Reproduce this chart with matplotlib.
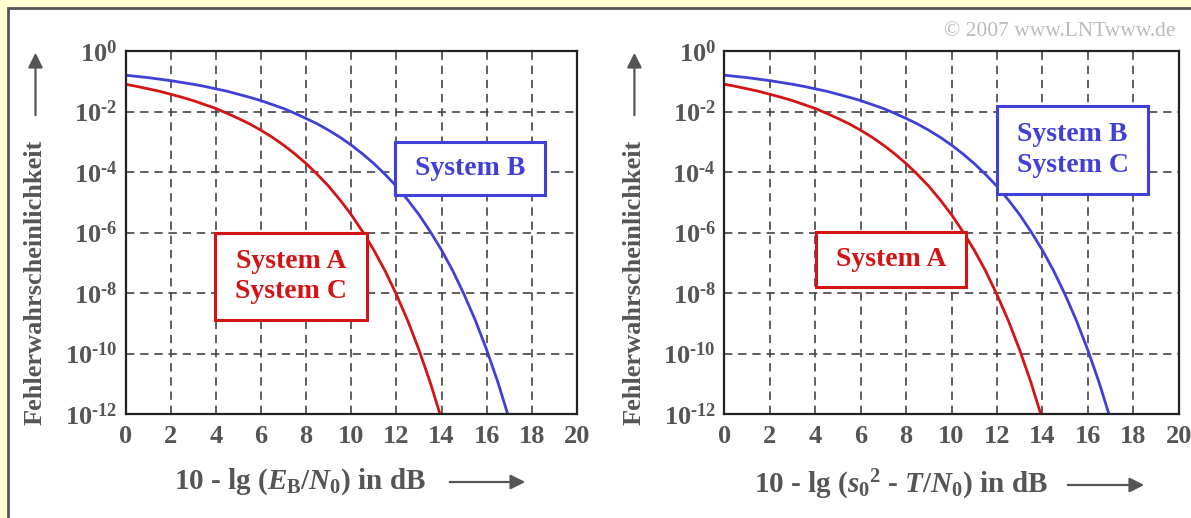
import matplotlib
matplotlib.use("Agg")
import matplotlib.pyplot as plt
from matplotlib.patches import Rectangle, FancyArrowPatch
from matplotlib.ticker import FixedLocator, FixedFormatter
import numpy as np

# ---------------- data (log10 of error probability) -------------
x_red = [0, 0.5, 1, 1.5, 2, 2.5, 3, 3.5, 4, 4.5, 5, 5.5, 6, 6.5, 7, 7.5, 8, 8.5, 9,
         9.5, 10, 10.5, 11, 11.5, 12, 12.5, 13, 13.5, 14]
lg_red = [-1.10, -1.17, -1.25, -1.33, -1.43, -1.53, -1.64, -1.77, -1.90, -2.06, -2.23,
          -2.41, -2.62, -2.85, -3.11, -3.40, -3.72, -4.08, -4.47, -4.92, -5.41, -5.97,
          -6.58, -7.27, -8.05, -8.91, -9.88, -10.96, -12.17]
x_blue = [0, 0.5, 1, 1.5, 2, 2.5, 3, 3.5, 4, 4.5, 5, 5.5, 6, 6.5, 7, 7.5, 8, 8.5, 9,
          9.5, 10, 10.5, 11, 11.5, 12, 12.5, 13, 13.5, 14, 14.5, 15, 15.5, 16, 16.5, 17]
lg_blue = [-0.80, -0.84, -0.88, -0.93, -0.98, -1.04, -1.10, -1.17, -1.25, -1.33, -1.43,
           -1.53, -1.64, -1.77, -1.90, -2.06, -2.23, -2.41, -2.62, -2.85, -3.11, -3.40,
           -3.72, -4.08, -4.47, -4.92, -5.41, -5.97, -6.58, -7.27, -8.05, -8.91, -9.88,
           -10.96, -12.17]

x_ticks = [0, 2, 4, 6, 8, 10, 12, 14, 16, 18, 20]
y_exps = [0, -2, -4, -6, -8, -10, -12]
ylabel_text = "Fehlerwahrscheinlichkeit"
xlabels = [r"10 - lg ($E_\mathrm{B}/N_0$) in dB", r"10 - lg ($s_0{}^2$ - $T/N_0$) in dB"]
box_texts = [("System B", "System A\nSystem C"), ("System B\nSystem C", "System A")]
copyright_text = "© 2007 www.LNTwww.de"

RED = "#D41414"
BLUE = "#4040D8"
GRAY = "#555555"

plt.rcParams["font.family"] = ["Liberation Serif", "DejaVu Serif"]
plt.rcParams["mathtext.fontset"] = "custom"
plt.rcParams["mathtext.rm"] = "Liberation Serif:bold"
plt.rcParams["mathtext.it"] = "Liberation Serif:bold:italic"
plt.rcParams["mathtext.bf"] = "Liberation Serif:bold"

W, H = 1191, 518
fig = plt.figure(figsize=(W / 100, H / 100), dpi=100)
fig.patch.set_facecolor("#FFFFD2")
fig.patches.append(Rectangle((8 / W, -0.05), 1.2, 1 - 8 / H + 0.05, transform=fig.transFigure,
                             facecolor="white", edgecolor="#555555", lw=2.0, zorder=-10))

def px_axes(l, t, r, b):
    return [l / W, 1 - b / H, (r - l) / W, (b - t) / H]

def ylab(e):
    if e == 0:
        return r"$\mathrm{10^{0}}$"
    return r"$\mathrm{10^{\text{-}%d}}$" % (-e)

axes_px = [(125.5, 51, 577, 414), (724.4, 51, 1178.6, 414)]
# boxes in axes fractions: (x0, y0, x1, y1)
blue_boxes = [(0.597, 0.603, 0.929, 0.749), (0.600, 0.606, 0.933, 0.848)]
red_boxes = [(0.198, 0.259, 0.535, 0.499), (0.201, 0.350, 0.532, 0.501)]
xlabel_pos = [(300, 482, 447, 528), (901, 485, 1065, 1147)]

for i, (l, t, r, b) in enumerate(axes_px):
    ax = fig.add_axes(px_axes(l, t, r, b))
    ax.set_facecolor("white")
    ax.set_yscale("log")
    ax.set_xlim(0, 20)
    ax.set_ylim(1e-12, 1)
    ax.plot(x_red, 10.0 ** np.array(lg_red), color=RED, lw=2.0, zorder=3, solid_capstyle="butt")
    ax.plot(x_blue, 10.0 ** np.array(lg_blue), color=BLUE, lw=2.0, zorder=3, solid_capstyle="butt")

    ax.xaxis.set_major_locator(FixedLocator(x_ticks))
    ax.xaxis.set_major_formatter(FixedFormatter([str(v) for v in x_ticks]))
    yt = [10.0 ** e for e in y_exps]
    ax.yaxis.set_major_locator(FixedLocator(yt))
    ax.yaxis.set_major_formatter(FixedFormatter([ylab(e) for e in y_exps]))
    ax.yaxis.set_minor_locator(FixedLocator([]))
    ax.tick_params(axis="both", length=0, labelsize=19, labelcolor=GRAY)
    ax.tick_params(axis="x", pad=8)
    ax.tick_params(axis="y", pad=6)
    for lab in ax.get_xticklabels():
        lab.set_fontweight("bold")
    ax.grid(True, which="major", color="#444444", lw=1.2, ls=(0, (5, 3.5)), zorder=1)
    for s in ax.spines.values():
        s.set_color("#222222")
        s.set_linewidth(1.6)
        s.set_zorder(5)

    # annotation boxes
    for (x0, y0, x1, y1), col, txt in ((blue_boxes[i], BLUE, box_texts[i][0]),
                                       (red_boxes[i], RED, box_texts[i][1])):
        ax.add_patch(Rectangle((x0, y0), x1 - x0, y1 - y0, transform=ax.transAxes,
                               facecolor="white", edgecolor=col, lw=2.2, zorder=4))
        ax.text((x0 + x1) / 2, (y0 + y1) / 2, txt, transform=ax.transAxes, ha="center",
                va="center", color=col, fontsize=20, fontweight="bold", linespacing=1.3,
                zorder=6)

    # y label with arrow
    fig.text((l - 90) / W, 1 - 282 / H, ylabel_text, rotation=90, ha="center", va="center",
             fontsize=19, fontweight="bold", color=GRAY)
    fig.add_artist(FancyArrowPatch(
        ((l - 90) / W, 1 - 118 / H), ((l - 90) / W, 1 - 50 / H), transform=fig.transFigure,
        arrowstyle="-|>", mutation_scale=22, color=GRAY, lw=1.6))

    # x label with arrow
    cx, cy, a0, a1 = xlabel_pos[i]
    fig.text(cx / W, 1 - cy / H, xlabels[i], ha="center", va="center", fontsize=21,
             fontweight="bold", color=GRAY)
    fig.add_artist(FancyArrowPatch(
        (a0 / W, 1 - cy / H), (a1 / W, 1 - cy / H), transform=fig.transFigure,
        arrowstyle="-|>", mutation_scale=22, color=GRAY, lw=1.6))

fig.text(1175 / W, 1 - 32 / H, copyright_text, ha="right", va="center", fontsize=15.5,
         color="#BBBBBB")

fig.savefig("out.png", dpi=100, facecolor=fig.get_facecolor())
